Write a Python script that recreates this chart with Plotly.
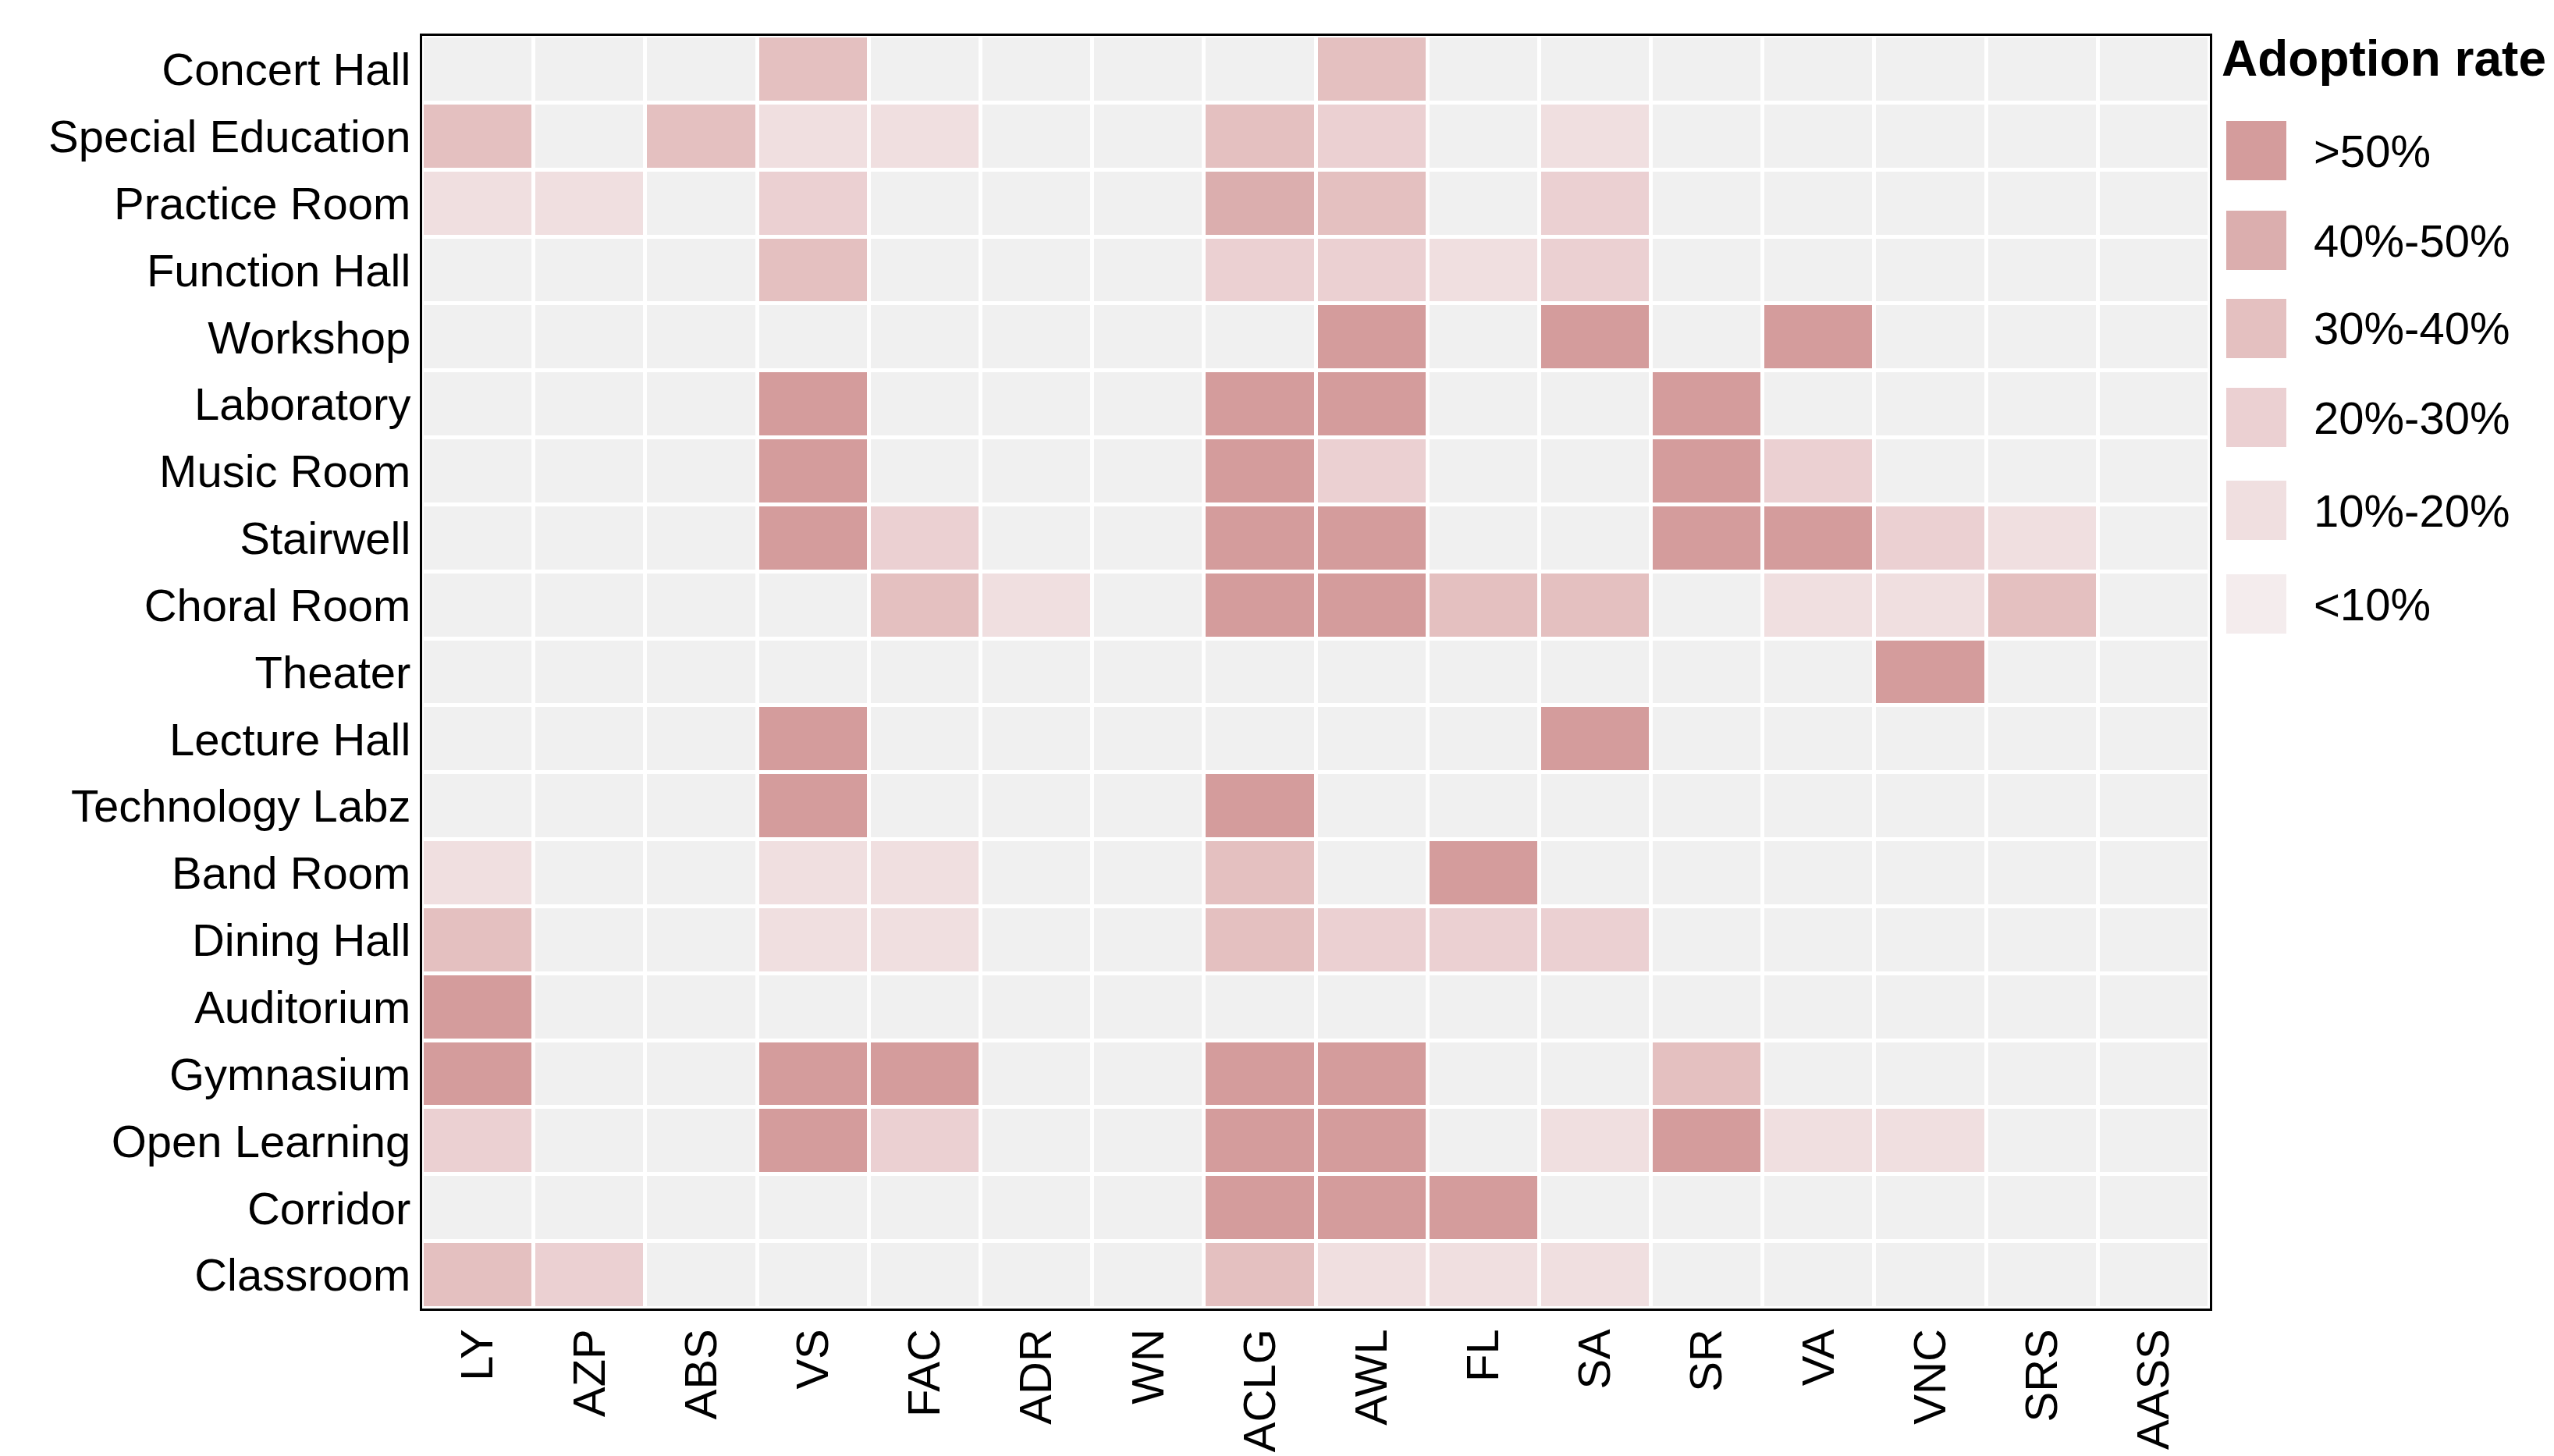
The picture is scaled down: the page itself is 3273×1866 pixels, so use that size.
import plotly.graph_objects as go

cols = ["LY","AZP","ABS","VS","FAC","ADR","WN","ACLG","AWL","FL","SA","SR","VA","VNC","SRS","AASS"]
rows = ["Concert Hall","Special Education","Practice Room","Function Hall","Workshop","Laboratory",
        "Music Room","Stairwell","Choral Room","Theater","Lecture Hall","Technology Labz","Band Room",
        "Dining Hall","Auditorium","Gymnasium","Open Learning","Corridor","Classroom"]
# level: 5 >50%, 4 40-50, 3 30-40, 2 20-30, 1 10-20, 0 none
levels = {
 "Concert Hall": {"VS":3,"AWL":3},
 "Special Education": {"LY":3,"ABS":3,"VS":1,"FAC":1,"ACLG":3,"AWL":2,"SA":1},
 "Practice Room": {"LY":1,"AZP":1,"VS":2,"ACLG":4,"AWL":3,"SA":2},
 "Function Hall": {"VS":3,"ACLG":2,"AWL":2,"FL":1,"SA":2},
 "Workshop": {"AWL":5,"SA":5,"VA":5},
 "Laboratory": {"VS":5,"ACLG":5,"AWL":5,"SR":5},
 "Music Room": {"VS":5,"ACLG":5,"AWL":2,"SR":5,"VA":2},
 "Stairwell": {"VS":5,"FAC":2,"ACLG":5,"AWL":5,"SR":5,"VA":5,"VNC":2,"SRS":1},
 "Choral Room": {"FAC":3,"ADR":1,"ACLG":5,"AWL":5,"FL":3,"SA":3,"VA":1,"VNC":1,"SRS":3},
 "Theater": {"VNC":5},
 "Lecture Hall": {"VS":5,"SA":5},
 "Technology Labz": {"VS":5,"ACLG":5},
 "Band Room": {"LY":1,"VS":1,"FAC":1,"ACLG":3,"FL":5},
 "Dining Hall": {"LY":3,"VS":1,"FAC":1,"ACLG":3,"AWL":2,"FL":2,"SA":2},
 "Auditorium": {"LY":5},
 "Gymnasium": {"LY":5,"VS":5,"FAC":5,"ACLG":5,"AWL":5,"SR":3},
 "Open Learning": {"LY":2,"VS":5,"FAC":2,"ACLG":5,"AWL":5,"SA":1,"SR":5,"VA":1,"VNC":1},
 "Corridor": {"ACLG":5,"AWL":5,"FL":5},
 "Classroom": {"LY":3,"AZP":2,"ACLG":3,"AWL":1,"FL":1,"SA":1},
}
legend_labels = [">50%","40%-50%","30%-40%","20%-30%","10%-20%","<10%"]
legend_colors = ["#d49c9c","#dbaeae","#e4c0c0","#ebd0d2","#f0dfe0","#f4eced"]
level_colors = ["#f0f0f0","#f0dfe0","#ebd0d2","#e4c0c0","#dbaeae","#d49c9c"]

z = [[levels[r].get(c,0) for c in cols] for r in rows]
dcs=[]
for i,col in enumerate(level_colors):
    dcs.append([i/6,col]); dcs.append([(i+1)/6,col])

W,H = 3273,1866
L,R,T,B = 533,2824,38,1669
fig = go.Figure(go.Heatmap(z=z, x=cols, y=rows, zmin=-0.5, zmax=5.5, colorscale=dcs,
    showscale=False, xgap=5, ygap=5, hoverinfo="skip"))

def px(x): return (x-L)/(R-L)
def py(y): return (B-y)/(B-T)

shapes=[]; ann=[]
ann.append(dict(xref="paper",yref="paper",x=px(2837),y=py(67),text="<b>Adoption rate</b>",
    showarrow=False,xanchor="left",yanchor="middle",font=dict(size=64)))
centers=[185,300,413,527,646,766]
for lab,col,cy in zip(legend_labels,legend_colors,centers):
    shapes.append(dict(type="rect",xref="paper",yref="paper",x0=px(2845),x1=px(2922),
        y0=py(cy-38),y1=py(cy+38),fillcolor=col,line=dict(width=0)))
    ann.append(dict(xref="paper",yref="paper",x=px(2955),y=py(cy),text=lab,showarrow=False,
        xanchor="left",yanchor="middle",font=dict(size=58)))

fig.update_layout(
    width=W,height=H,
    margin=dict(l=L,r=W-R,t=T,b=H-B,autoexpand=False),
    plot_bgcolor="white",paper_bgcolor="white",
    font=dict(family="Liberation Sans, Arial",size=58,color="black"),
    showlegend=False, shapes=shapes, annotations=ann,
)
fig.update_xaxes(type="category",tickangle=-90,showline=True,linecolor="black",linewidth=3,
    mirror=True,ticks="",showgrid=False,zeroline=False,tickfont=dict(size=58))
fig.update_yaxes(type="category",autorange="reversed",showline=True,linecolor="black",linewidth=3,
    mirror=True,ticks="",showgrid=False,zeroline=False,tickfont=dict(size=58))
fig.write_html("out.html")
